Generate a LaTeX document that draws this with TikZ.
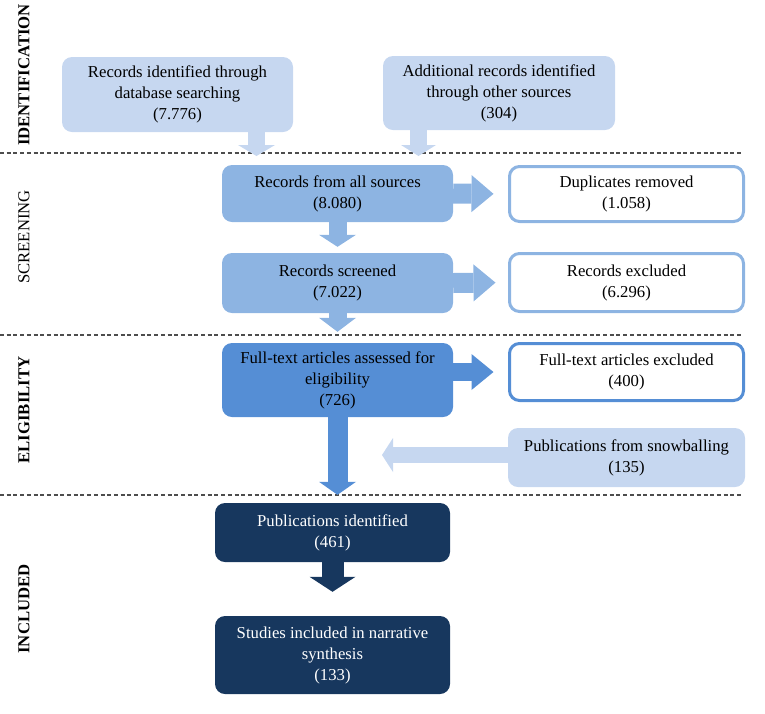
\documentclass[tikz,border=0pt]{standalone}
\usepackage{fontspec}
\setmainfont{Liberation Serif}
\usetikzlibrary{arrows.meta}

\definecolor{idblue}{HTML}{C6D7F0}
\definecolor{scrblue}{HTML}{8DB4E2}
\definecolor{eliblue}{HTML}{558ED5}
\definecolor{incblue}{HTML}{17375E}
\definecolor{sepgray}{HTML}{4D4D4D}

\tikzset{
  stage/.style={rectangle, rounded corners=10pt, align=center, inner sep=0pt,
    minimum width=231pt, font=\fontsize{16.7}{21}\selectfont},
  idbox/.style={stage, fill=idblue},
  scrbox/.style={stage, fill=scrblue},
  elibox/.style={stage, fill=eliblue},
  incbox/.style={stage, fill=incblue, text=white, minimum width=235pt},
  outbox/.style={stage, draw=#1, line width=3pt, fill=white, minimum width=234pt},
  phase/.style={rotate=90, font=\fontsize{16.7}{20}\selectfont},
  sepline/.style={draw=sepgray, line width=1.3pt, dash pattern=on 4pt off 2.7pt},
  flow/.style n args={4}{draw=#1, line width=#2,
    -{Triangle[width=#3, length=#4, line width=0pt]}}
}

\begin{document}
\begin{tikzpicture}[x=1pt, y=-1pt]
\useasboundingbox (0,0) rectangle (765,713);
% section separators
\foreach \y in {153,335,495}
  \draw[sepline] (0,\y) -- (743,\y);
% phase labels
\node[phase, font=\fontsize{16.7}{20}\selectfont\bfseries] (lident) at (24,75) {IDENTIFICATION};
\node[phase] (lscreen) at (24,237) {SCREENING};
\node[phase, font=\fontsize{16.7}{20}\selectfont\bfseries] (lelig) at (24,410) {ELIGIBILITY};
\node[phase, font=\fontsize{16.7}{20}\selectfont\bfseries] (lincl) at (24,609) {INCLUDED};
% identification
\node[idbox, minimum height=75pt] (db) at (177.5,94.5) {Records identified through\\database searching\\(7.776)};
\node[idbox, minimum width=232pt, minimum height=74pt] (other) at (499,93) {Additional records identified\\through other sources\\(304)};
% screening
\node[scrbox, minimum height=57pt] (all) at (337.5,193.5) {Records from all sources\\(8.080)};
\node[outbox=scrblue, minimum height=55pt] (dup) at (626.5,194) {Duplicates removed\\(1.058)};
\node[scrbox, minimum height=60pt] (screened) at (337.5,283) {Records screened\\(7.022)};
\node[outbox=scrblue, minimum height=58pt] (excl) at (626.5,282.5) {Records excluded\\(6.296)};
% eligibility
\node[elibox, minimum height=74pt] (full) at (337.5,380) {Full-text articles assessed for\\eligibility\\(726)};
\node[outbox=eliblue, minimum height=57pt] (ftex) at (626.5,372) {Full-text articles excluded\\(400)};
\node[idbox, minimum width=237pt, minimum height=59pt] (snow) at (626.5,457.5) {Publications from snowballing\\(135)};
% included
\node[incbox, minimum height=59pt] (pubid) at (332.5,532.5) {Publications identified\\(461)};
\node[incbox, minimum height=78pt] (incl) at (332.5,655) {Studies included in narrative\\synthesis\\(133)};
% arrows
\coordinate (dbtip) at (256.5,156);
\coordinate (othertip) at (418.5,156);
\coordinate (snowtip) at (382,455);
\draw[flow={idblue}{17pt}{37pt}{11pt}] (db.south -| dbtip) -- (dbtip);
\draw[flow={idblue}{17pt}{35pt}{11pt}] (other.south -| othertip) -- (othertip);
\draw[flow={scrblue}{20pt}{37pt}{22pt}, shorten >=14.5pt] (all.east) -- (dup.west);
\draw[flow={scrblue}{18pt}{37pt}{12pt}, shorten >=6pt] (all.south) -- (screened.north);
\draw[flow={scrblue}{20pt}{37pt}{22pt}, shorten >=12.5pt] (screened.east) -- (excl.west);
\draw[flow={scrblue}{18pt}{37pt}{14pt}, shorten >=11pt] (screened.south) -- (full.north);
\draw[flow={eliblue}{18pt}{36pt}{22pt}, shorten >=14.5pt] (full.east |- ftex.west) -- (ftex.west);
\draw[flow={eliblue}{20pt}{37pt}{13pt}, shorten >=8pt] (full.south) -- (full.south |- pubid.north);
\draw[flow={idblue}{16pt}{34pt}{11pt}] (snow.west |- snowtip) -- (snowtip);
\draw[flow={incblue}{22pt}{46pt}{15pt}, shorten >=24pt] (pubid.south) -- (incl.north);
\end{tikzpicture}
\end{document}
